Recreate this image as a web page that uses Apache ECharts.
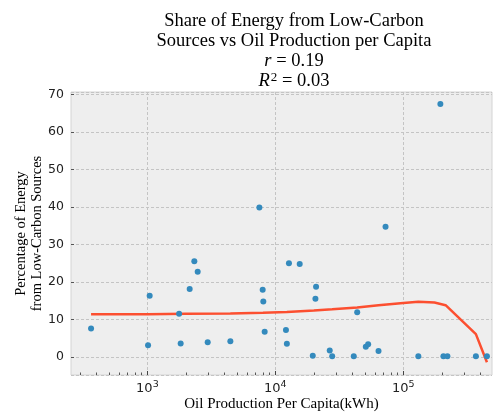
<!DOCTYPE html>
<html>
<head>
<meta charset="utf-8">
<script src="https://cdn.jsdelivr.net/npm/echarts@6/dist/echarts.min.js"></script>
<style>
  html, body { margin: 0; padding: 0; background: #fff; }
  #chart { width: 497px; height: 412px; }
</style>
</head>
<body>
<div id="chart"></div>
<script>
// oil production per capita (kWh) and low-carbon share (%) per country
const oilPerCapita = [
    363, 1012, 1042, 1770, 1820, 2140, 2327, 2472, 2960, 4450,
    7500, 7960, 8050, 8250, 12100, 12300, 12770, 15500, 19600, 20560,
    20800, 26600, 27800, 41000, 43600, 50900, 53100, 64000, 72600, 131000,
    194700, 205700, 221000, 369000, 450000
];
const lowCarbonShare = [
    7.6, 3.1, 16.3, 11.5, 3.6, 18.1, 25.5, 22.7, 3.9, 4.2,
    39.8, 17.9, 14.8, 6.7, 7.2, 3.5, 25.0, 24.8, 0.3, 15.5,
    18.7, 1.7, 0.2, 0.2, 11.9, 2.7, 3.4, 1.6, 34.7, 0.2,
    67.4, 0.2, 0.2, 0.2, 0.2
];

// smoothed trend line
const trendX = [363, 1012, 2000, 4450, 8000, 12300, 20000, 27800, 43600, 64000, 100000, 131000, 175000, 214000, 369000, 450000];
const trendY = [11.4, 11.4, 11.5, 11.6, 11.8, 12.0, 12.4, 12.7, 13.2, 13.8, 14.4, 14.7, 14.5, 13.8, 6.1, -1.4];

const majorTicks = [1000, 10000, 100000];
const minorTicks = [
    300, 400, 500, 600, 700, 800, 900,
    2000, 3000, 4000, 5000, 6000, 7000, 8000, 9000,
    20000, 30000, 40000, 50000, 60000, 70000, 80000, 90000,
    200000, 300000, 400000
];

const serif = "'Liberation Serif', 'DejaVu Serif', serif";
const sans = "'DejaVu Sans', sans-serif";
const gridLine = { color: "#c4c4c4", type: [3, 2], width: 1 };

function pairs(xs, ys) {
    return xs.map((x, i) => [x, ys[i]]);
}

const chart = echarts.init(document.getElementById("chart"));

chart.setOption({
    animation: false,
    title: {
        text: "Share of Energy from Low-Carbon\nSources vs Oil Production per Capita\n{i|r} = 0.19\n{i|R}{sup|2} = 0.03",
        left: 289,
        top: 6,
        textAlign: "center",
        textStyle: {
            fontFamily: serif,
            fontSize: 18.5,
            fontWeight: "normal",
            color: "#000",
            lineHeight: 20,
            rich: {
                i: { fontFamily: serif, fontSize: 18.5, fontStyle: "italic", lineHeight: 20 },
                sup: { fontFamily: serif, fontSize: 13, verticalAlign: "top", lineHeight: 20, padding: [0, 0, 8, 1] }
            }
        }
    },
    grid: {
        left: 71,
        right: 5,
        top: 92,
        bottom: 37,
        outerBoundsMode: "none",
        containLabel: false,
        show: true,
        backgroundColor: "#eeeeee",
        borderColor: "#d4d4d4",
        borderWidth: 1
    },
    xAxis: [
        {
            type: "log",
            logBase: 10,
            min: 253,
            max: 493000,
            name: "Oil Production Per Capita(kWh)",
            nameLocation: "middle",
            nameGap: 22,
            nameMoveOverlap: false,
            nameTextStyle: { fontFamily: serif, fontSize: 15, color: "#000" },
            axisLine: { show: false, onZero: false },
            axisTick: {
                show: true,
                inside: true,
                length: 4,
                customValues: majorTicks,
                lineStyle: { color: "#444" }
            },
            axisLabel: {
                customValues: majorTicks,
                margin: 5,
                formatter: (v) => "10{s|" + Math.round(Math.log10(v)) + "}",
                fontFamily: sans,
                fontSize: 13,
                color: "#222",
                rich: {
                    s: { fontFamily: sans, fontSize: 9.5, color: "#222", verticalAlign: "top", padding: [0, 0, 7, 0] }
                }
            },
            splitLine: { show: true, lineStyle: gridLine }
        },
        {
            // minor ticks only
            type: "log",
            logBase: 10,
            min: 253,
            max: 493000,
            position: "bottom",
            axisLine: { show: false, onZero: false },
            axisTick: {
                show: true,
                inside: true,
                length: 2.5,
                customValues: minorTicks,
                lineStyle: { color: "#555" }
            },
            axisLabel: { show: false },
            splitLine: { show: false }
        }
    ],
    yAxis: {
        type: "value",
        min: -4.8,
        max: 70.6,
        splitNumber: 8,
        name: "Percentage of Energy\nfrom Low-Carbon Sources",
        nameLocation: "middle",
        nameGap: 26,
        nameMoveOverlap: false,
        nameTextStyle: { fontFamily: serif, fontSize: 14.5, color: "#000", lineHeight: 16 },
        axisLine: { show: false, onZero: false },
        axisTick: { show: true, inside: true, length: 3, lineStyle: { color: "#555" } },
        axisLabel: {
            showMinLabel: false,
            showMaxLabel: false,
            margin: 7,
            fontFamily: sans,
            fontSize: 12.5,
            color: "#222"
        },
        splitLine: { show: true, lineStyle: gridLine }
    },
    series: [
        {
            type: "line",
            data: pairs(trendX, trendY),
            showSymbol: false,
            lineStyle: { color: "#fc4f30", width: 2.5 },
            z: 2
        },
        {
            type: "scatter",
            data: pairs(oilPerCapita, lowCarbonShare),
            symbolSize: 6,
            itemStyle: { color: "#348abd", opacity: 1 },
            z: 3
        }
    ]
});
</script>
</body>
</html>
